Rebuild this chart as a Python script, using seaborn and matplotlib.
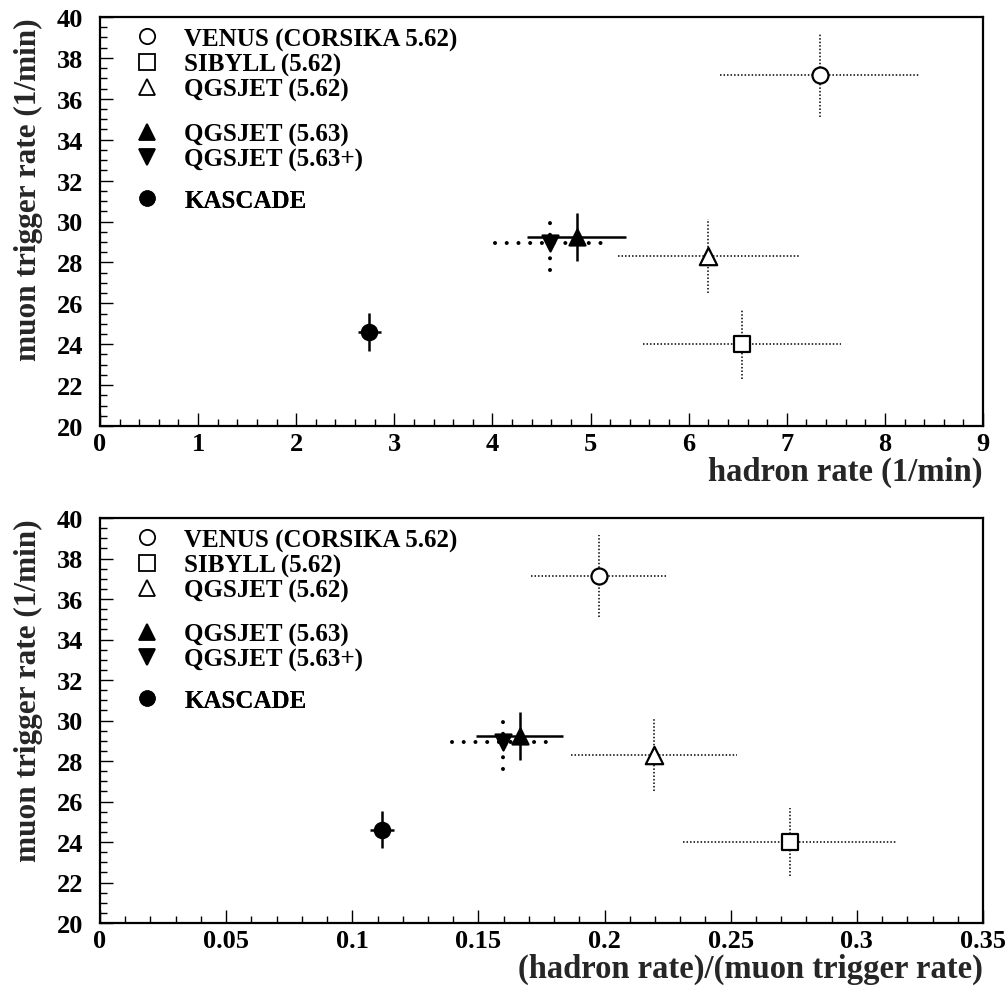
import matplotlib
matplotlib.use("Agg")
import matplotlib.pyplot as plt
import seaborn as sns
import pandas as pd
from matplotlib.lines import Line2D
from matplotlib.ticker import MultipleLocator

# ---------------- data ----------------
models = ["VENUS (CORSIKA 5.62)", "SIBYLL (5.62)", "QGSJET (5.62)",
          "QGSJET (5.63)", "QGSJET (5.63+)", "KASCADE"]
hadron_rate = [7.34, 6.54, 6.20, 4.86, 4.59, 2.745]
hadron_err = [1.02, 1.01, 0.92, 0.505, 0.56, 0.117]
muon_rate = [37.15, 24.0, 28.3, 29.25, 28.95, 24.6]
muon_err = [2.03, 1.70, 1.80, 1.18, 1.33, 0.91]
ratio = [0.1977, 0.2736, 0.2195, 0.1663, 0.1596, 0.1117]
ratio_err = [0.027, 0.0425, 0.033, 0.0172, 0.020, 0.0048]

# ---------------- styles ----------------
marker_of = ["o", "s", "^", "^", "v", "o"]
face_of = ["white", "white", "white", "black", "black", "black"]
size_of = [11.5, 11.5, 12.5, 11.5, 11.5, 11.0]
err_of = ["thin", "thin", "thin", "solid", "thick", "solid"]
legend_groups = [[0, 1, 2], [3, 4], [5]]

sns.set_theme(style="white")
plt.rcParams["font.family"] = ["Liberation Serif", "DejaVu Serif"]
plt.rcParams["font.weight"] = "bold"
plt.rcParams["axes.labelweight"] = "bold"
plt.rcParams["axes.edgecolor"] = "black"
plt.rcParams["text.color"] = "black"
plt.rcParams["xtick.color"] = "black"
plt.rcParams["ytick.color"] = "black"

W, H = 1008, 995
fig = plt.figure(figsize=(W / 100, H / 100), dpi=100)
ax1 = fig.add_axes([100 / W, 1 - 427 / H, 883 / W, 409 / H])
ax2 = fig.add_axes([100 / W, 1 - 924 / H, 883 / W, 405 / H])


def draw_panel(ax, xs, xerrs, xmax, xmajor, xminor, xlabel):
    for i in range(len(models)):
        eb = ax.errorbar(xs[i], muon_rate[i], xerr=xerrs[i], yerr=muon_err[i],
                         fmt="none", ecolor="black", capsize=0, zorder=2)
        for lc in eb[2]:
            if err_of[i] == "thin":
                lc.set_linewidth(1.1)
                lc.set_linestyle((0, (1.0, 1.3)))
            elif err_of[i] == "thick":
                lc.set_linewidth(2.9)
                lc.set_linestyle((0, (0.01, 2.9)))
                lc.set_capstyle("round")
            else:
                lc.set_linewidth(1.8)
        df = pd.DataFrame({"x": [xs[i]], "y": [muon_rate[i]]})
        sns.scatterplot(data=df, x="x", y="y", marker=marker_of[i],
                        s=size_of[i] ** 2, color=face_of[i], edgecolor="black",
                        linewidth=1.6, ax=ax, zorder=3, legend=False)

    ax.set_xlim(0, xmax)
    ax.set_ylim(20, 40)
    ax.xaxis.set_major_locator(MultipleLocator(xmajor))
    ax.xaxis.set_minor_locator(MultipleLocator(xminor))
    ax.yaxis.set_major_locator(MultipleLocator(2))
    ax.yaxis.set_minor_locator(MultipleLocator(0.5))
    ax.tick_params(which="both", direction="in", top=False, right=False,
                   bottom=True, left=True, width=1.0, labelsize=19)
    ax.tick_params(which="major", length=9.5)
    ax.tick_params(which="minor", length=5)
    ax.tick_params(axis="x", which="major", pad=4)
    ax.tick_params(axis="y", which="major", pad=12)
    ax.xaxis.set_major_formatter(
        matplotlib.ticker.FuncFormatter(lambda v, p: f"{v:g}"))
    for sp in ax.spines.values():
        sp.set_visible(True)
        sp.set_linewidth(1.6)
        sp.set_color("black")
    ax.set_xlabel(xlabel, loc="right", fontsize=23.5, labelpad=1)
    ax.set_ylabel("muon trigger rate (1/min)", loc="top", fontsize=22.5,
                  labelpad=10)

    # legends (three blocks)
    tops = [0.975, 0.742, 0.579]
    for g, top in zip(legend_groups, tops):
        handles = []
        for i in g:
            handles.append(Line2D([], [], ls="none", marker=marker_of[i],
                                  markersize=size_of[i] - 0.5,
                                  markerfacecolor=face_of[i],
                                  markeredgecolor="black",
                                  markeredgewidth=1.3,
                                  label=models[i]))
        leg = ax.legend(handles=handles, loc="upper left",
                        bbox_to_anchor=(0.0387, top), frameon=False,
                        fontsize=18, handlelength=1.0, handletextpad=1.0,
                        labelspacing=0.07, borderpad=0, borderaxespad=0)
        ax.add_artist(leg)


draw_panel(ax1, hadron_rate, hadron_err, 9, 1, 0.2, "hadron rate (1/min)")
draw_panel(ax2, ratio, ratio_err, 0.35, 0.05, 0.01,
           "(hadron rate)/(muon trigger rate)")

fig.savefig("out.png", dpi=100, facecolor="white")
